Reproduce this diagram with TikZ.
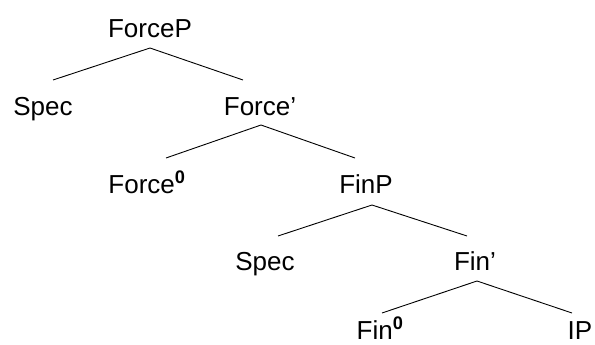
\documentclass[tikz,border=0pt]{standalone}
\usepackage{fontspec}
\setmainfont{Liberation Sans}

\tikzset{
  lbl/.style={anchor=base, inner sep=0pt, font=\fontsize{26}{30}\selectfont},
  branch/.style={line width=0.9pt}
}

\begin{document}
\begin{tikzpicture}[x=1pt, y=-1pt]
        \useasboundingbox (0,0) rectangle (595,345);
        % labels
        \node[lbl] (forcep) at (150,38) {ForceP};
        \node[lbl] (spec1) at (43,115) {Spec};
        \node[lbl] (forcebar) at (260,115) {Force’};
        \node[lbl] (forcezero) at (147,193) {Force\textsuperscript{\textbf{0}}};
        \node[lbl] (finp) at (366,193) {FinP};
        \node[lbl] (spec2) at (265,270) {Spec};
        \node[lbl] (finbar) at (475,270) {Fin’};
        \node[lbl] (finzero) at (380,339) {Fin\textsuperscript{\textbf{0}}};
        \node[lbl] (ip) at (580,339) {IP};
        % branches
        \draw[branch] ([yshift=-10pt]forcep.base) -- ([xshift=10pt,yshift=35pt]spec1.base);
        \draw[branch] ([yshift=-10pt]forcep.base) -- ([xshift=-17pt,yshift=35pt]forcebar.base);
        \draw[branch] ([xshift=1pt,yshift=-10pt]forcebar.base) -- ([xshift=19pt,yshift=35pt]forcezero.base);
        \draw[branch] ([xshift=1pt,yshift=-10pt]forcebar.base) -- ([xshift=-11pt,yshift=35pt]finp.base);
        \draw[branch] ([xshift=6pt,yshift=-12pt]finp.base) -- ([xshift=13pt,yshift=34pt]spec2.base);
        \draw[branch] ([xshift=6pt,yshift=-12pt]finp.base) -- ([xshift=-8pt,yshift=34pt]finbar.base);
        \draw[branch] ([xshift=2pt,yshift=-11pt]finbar.base) -- ([xshift=2pt,yshift=26pt]finzero.base);
        \draw[branch] ([xshift=2pt,yshift=-11pt]finbar.base) -- ([xshift=-8pt,yshift=26pt]ip.base);
\end{tikzpicture}
\end{document}
